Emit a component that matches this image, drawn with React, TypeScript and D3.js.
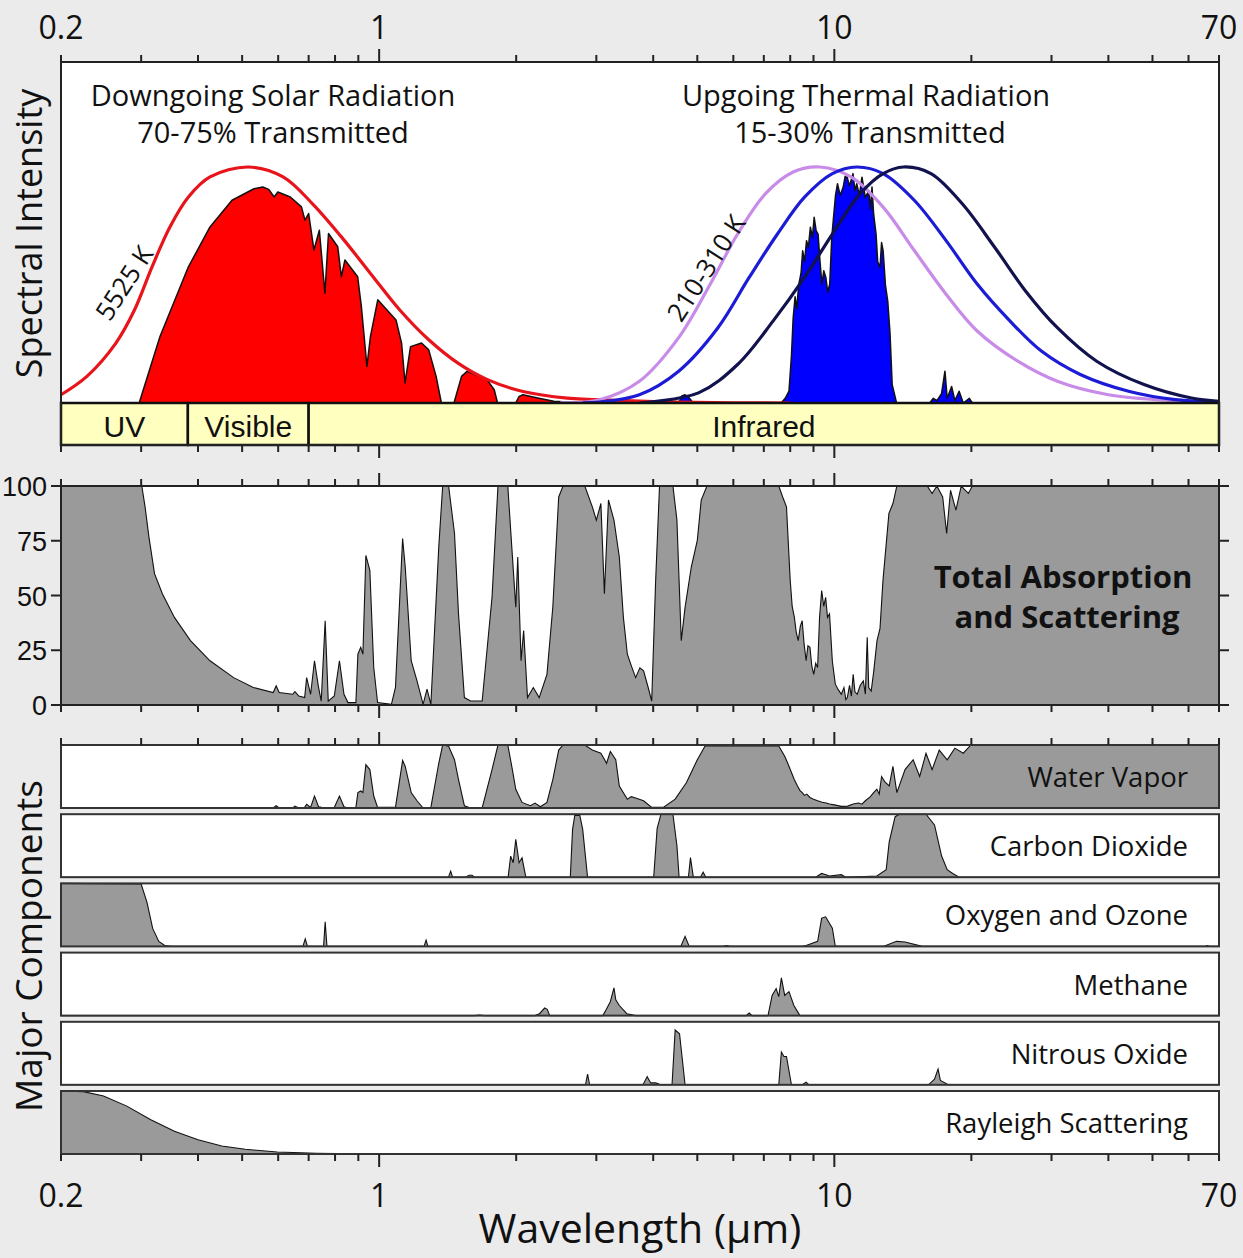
import React from 'react';
import * as d3 from 'd3';

type Pt = [number, number];

// axis ticks (wavelength, µm)
const majorTicks = [1, 10];
const minorTicks = [0.2, 0.3, 0.4, 0.5, 0.6, 0.7, 0.8, 0.9, 2, 3, 4, 5, 6, 7, 8, 9, 20, 30, 40, 50, 60, 70];
const tickLabels: [number, string][] = [[0.2, '0.2'], [1, '1'], [10, '10'], [70, '70']];
const absTicks = [0, 25, 50, 75, 100];

// spectrum bands
const bandNames = ['UV', 'Visible', 'Infrared'];
const bandEdges = [0.2, 0.38, 0.7, 70];

// blackbody curves (normalised intensity)
const bb5525: Pt[] = [
  [0.2, 0.035], [0.228, 0.113], [0.264, 0.254], [0.29, 0.394], [0.317, 0.577], [0.347, 0.746],
  [0.381, 0.873], [0.425, 0.958], [0.516, 1.0], [0.615, 0.958], [0.713, 0.845], [0.826, 0.704],
  [0.957, 0.549], [1.11, 0.394], [1.285, 0.268], [1.49, 0.169], [1.73, 0.099], [2.07, 0.049],
  [2.59, 0.021], [3.35, 0.011], [4.5, 0.004], [6, 0.001], [8, 0],
];
const bb310: Pt[] = [
  [2.5, 0.002], [3.05, 0.014], [3.73, 0.092], [4.55, 0.277], [5.34, 0.504], [6.13, 0.716], [7.06, 0.887],
  [8.12, 0.979], [9.3, 1.0], [10.9, 0.957], [12.8, 0.83], [15.0, 0.645], [17.6, 0.461], [20.6, 0.305],
  [25.3, 0.177], [30.9, 0.092], [40, 0.035], [55.2, 0.01], [70, 0.004],
];
const bb260: Pt[] = [
  [2.8, 0.001], [3.05, 0.004], [3.73, 0.035], [4.55, 0.135], [5.55, 0.319], [6.5, 0.532], [7.5, 0.716],
  [8.6, 0.872], [9.9, 0.972], [11.2, 1.0], [12.8, 0.972], [15, 0.858], [17.6, 0.688], [20.6, 0.504],
  [24.3, 0.348], [28.5, 0.22], [34.7, 0.121], [44.3, 0.05], [56.2, 0.014], [70, 0.004],
];
const bb210: Pt[] = [
  [3.73, 0.0], [5.03, 0.043], [6.13, 0.163], [7.34, 0.348], [8.6, 0.532], [9.9, 0.716], [11.4, 0.887],
  [12.8, 0.972], [14.2, 1.0], [16.3, 0.972], [19.1, 0.844], [22.5, 0.66], [26.3, 0.475], [30.9, 0.319],
  [37.7, 0.177], [47.9, 0.078], [60.9, 0.021], [70, 0.007],
];

// transmitted radiation
const solarTransmitted: Pt[] = [
  [0.297, 0], [0.33, 0.282], [0.381, 0.577], [0.425, 0.746], [0.475, 0.859], [0.531, 0.908], [0.555, 0.915],
  [0.572, 0.905], [0.588, 0.873], [0.599, 0.894], [0.638, 0.873], [0.675, 0.831], [0.687, 0.775],
  [0.7, 0.803], [0.719, 0.648], [0.739, 0.732], [0.76, 0.465], [0.774, 0.718], [0.811, 0.662],
  [0.826, 0.535], [0.841, 0.606], [0.897, 0.535], [0.914, 0.408], [0.94, 0.155], [0.957, 0.282],
  [0.993, 0.437], [1.089, 0.352], [1.12, 0.254], [1.14, 0.085], [1.172, 0.239], [1.239, 0.254],
  [1.285, 0.225], [1.334, 0.113], [1.37, 0], [1.46, 0], [1.517, 0.113], [1.56, 0.134], [1.725, 0.099],
  [1.79, 0.056], [1.82, 0], [1.995, 0], [2.03, 0.028], [2.07, 0.035], [2.23, 0.021], [2.42, 0.007],
  [2.6, 0.004], [2.75, 0],
];
const thermalTransmitted: Pt[] = [
  [4.55, 0], [4.62, 0.03], [4.7, 0.035], [4.78, 0.025], [4.9, 0], [7.64, 0], [7.8, 0.02], [7.95, 0.05],
  [8.05, 0.2], [8.12, 0.36], [8.2, 0.45], [8.27, 0.4], [8.35, 0.5], [8.45, 0.55], [8.52, 0.645],
  [8.6, 0.6], [8.69, 0.688], [8.77, 0.66], [8.86, 0.745], [8.95, 0.7], [9.03, 0.787], [9.12, 0.73],
  [9.21, 0.716], [9.3, 0.6], [9.39, 0.504], [9.48, 0.56], [9.58, 0.532], [9.67, 0.47], [9.77, 0.504],
  [9.87, 0.7], [9.96, 0.787], [10.06, 0.88], [10.16, 0.929], [10.3, 0.88], [10.46, 0.915], [10.56, 0.96],
  [10.67, 0.957], [10.8, 0.92], [10.99, 0.972], [11.1, 0.9], [11.2, 0.929], [11.35, 0.88], [11.5, 0.957],
  [11.7, 0.87], [11.9, 0.9], [12.0, 0.82], [12.1, 0.915], [12.2, 0.8], [12.35, 0.716], [12.45, 0.6],
  [12.6, 0.574], [12.7, 0.68], [12.8, 0.645], [12.95, 0.5], [13.1, 0.433], [13.25, 0.3], [13.4, 0.078],
  [13.7, 0], [16.2, 0], [16.5, 0.02], [16.8, 0.01], [17.2, 0.04], [17.5, 0.135], [17.7, 0.02],
  [18.1, 0.07], [18.4, 0.01], [18.8, 0.05], [19.2, 0], [19.8, 0.02], [20.1, 0],
];

// total absorption and scattering (%)
const totalAbsorption: Pt[] = [
  [0.2, 100], [0.301, 100], [0.306, 90.5], [0.312, 76.8], [0.321, 60], [0.334, 50.8], [0.355, 40],
  [0.385, 29.4], [0.425, 20.2], [0.479, 12.5], [0.529, 8], [0.585, 5.7], [0.594, 8.7], [0.603, 5.7],
  [0.646, 4.9], [0.653, 6.1], [0.666, 4.1], [0.686, 3.4], [0.693, 12.5], [0.707, 4.9], [0.721, 20.2],
  [0.736, 8], [0.746, 1.8], [0.761, 38.5], [0.773, 1.8], [0.797, 4.1], [0.818, 20.2], [0.837, 4.9],
  [0.854, 1.1], [0.889, 1.1], [0.898, 23.2], [0.911, 26.3], [0.921, 23.2], [0.935, 68.3], [0.954, 61.5],
  [0.973, 17.1], [0.992, 1.1], [1.064, 0.3], [1.086, 8], [1.126, 76], [1.141, 63], [1.176, 20.2],
  [1.211, 11], [1.249, 0.3], [1.274, 7.2], [1.299, 0.3], [1.352, 72.2], [1.379, 100], [1.421, 100],
  [1.464, 78.3], [1.494, 41.6], [1.539, 3.4], [1.587, 1.8], [1.684, 1.8], [1.77, 49.2], [1.824, 100],
  [1.917, 100], [1.956, 72.2], [1.996, 44.6], [2.016, 67.6], [2.05, 20.2], [2.077, 34], [2.118, 3.4],
  [2.181, 8], [2.247, 3.4], [2.337, 14], [2.407, 44.6], [2.48, 95], [2.535, 100], [2.83, 100],
  [2.94, 90.5], [3.0, 84.4], [3.07, 92], [3.125, 50.8], [3.19, 93.6], [3.28, 84.4], [3.37, 67.6],
  [3.44, 40], [3.51, 23.2], [3.58, 18], [3.66, 12.5], [3.74, 17], [3.81, 15.6], [3.9, 8], [3.97, 1.8],
  [4.05, 56.9], [4.13, 100], [4.42, 100], [4.51, 84.4], [4.61, 29.4], [4.7, 44.6], [4.85, 63],
  [5.0, 75.2], [5.1, 93.6], [5.25, 100], [7.55, 100], [7.7, 95], [7.85, 90.5], [8.0, 56.9], [8.08, 45],
  [8.17, 40], [8.25, 33], [8.33, 29.4], [8.42, 36], [8.5, 38.5], [8.58, 28], [8.67, 20.2], [8.75, 27],
  [8.84, 26.3], [8.92, 18], [9.01, 14], [9.1, 19], [9.19, 17.1], [9.28, 40], [9.38, 52.3], [9.48, 45],
  [9.57, 49.2], [9.66, 40], [9.76, 41.6], [9.9, 20], [10.05, 9.5], [10.2, 7], [10.36, 4.9], [10.5, 8],
  [10.6, 2.5], [10.68, 3.4], [10.8, 9], [10.9, 4], [11.0, 14], [11.1, 6], [11.23, 4.9], [11.4, 9],
  [11.58, 11], [11.7, 5], [11.81, 30.9], [11.9, 8], [12.05, 6.4], [12.2, 15], [12.41, 29.4], [12.6, 35],
  [12.79, 56.9], [13.18, 87.5], [13.45, 92], [13.72, 100], [16.0, 100], [16.4, 96.6], [16.8, 100],
  [17.3, 95], [17.65, 78.3], [18.0, 98], [18.5, 89], [19.0, 100], [19.7, 96.6], [20.1, 100], [70, 100],
];

// major components (% of panel)
const waterVapor: Pt[] = [
  [0.2, 0], [0.585, 0], [0.594, 3.6], [0.603, 0], [0.646, 0], [0.653, 3], [0.666, 0], [0.686, 1],
  [0.693, 6], [0.707, 1], [0.721, 19], [0.736, 2], [0.76, 0], [0.797, 1], [0.818, 19], [0.837, 2],
  [0.854, 0], [0.889, 1], [0.898, 24.5], [0.911, 27], [0.921, 24.5], [0.935, 68.8], [0.954, 61],
  [0.973, 19], [0.992, 1], [1.086, 1], [1.126, 75.5], [1.141, 66], [1.176, 24.5], [1.211, 11.5],
  [1.249, 0], [1.299, 1], [1.352, 71], [1.379, 100], [1.421, 98], [1.464, 76.6], [1.494, 45],
  [1.539, 3.6], [1.587, 0], [1.684, 0], [1.77, 61], [1.824, 100], [1.917, 100], [1.956, 66],
  [1.996, 29.7], [2.06, 8.9], [2.15, 3.6], [2.2, 7.8], [2.26, 2], [2.337, 8.9], [2.407, 45], [2.48, 92],
  [2.535, 100], [2.83, 100], [2.94, 92], [3.07, 87], [3.16, 71], [3.22, 89.6], [3.31, 76.6], [3.37, 35],
  [3.51, 14], [3.58, 18], [3.66, 16], [3.81, 11.5], [3.97, 1], [4.21, 1], [4.47, 14], [4.73, 40],
  [5.0, 76.6], [5.2, 98.4], [7.55, 98.4], [7.78, 82], [7.9, 71], [8.17, 45], [8.3, 35], [8.4, 28],
  [8.5, 24.5], [8.6, 20], [8.7, 22], [8.84, 16.7], [9.0, 14], [9.19, 11.5], [9.4, 9], [9.6, 8],
  [9.76, 6.3], [10.0, 5], [10.36, 2.6], [10.7, 3], [11.0, 6.3], [11.3, 8], [11.5, 6], [11.7, 11.5],
  [12.0, 18], [12.2, 24.5], [12.4, 30], [12.55, 22], [12.7, 50], [12.9, 42], [13.2, 35], [13.45, 66],
  [13.72, 24.5], [14.3, 61], [14.9, 76.6], [15.4, 50], [15.9, 87], [16.4, 61], [17.0, 92], [17.7, 76.6],
  [18.4, 95], [19.2, 87], [19.95, 100], [70, 100],
];
const carbonDioxide: Pt[] = [
  [0.2, 0], [1.42, 0], [1.436, 9.6], [1.45, 0], [1.55, 0], [1.575, 3], [1.6, 3], [1.62, 0], [1.92, 0],
  [1.945, 33.5], [1.97, 23], [1.996, 60], [2.03, 23], [2.06, 30.8], [2.1, 0], [2.63, 0], [2.66, 76],
  [2.69, 98], [2.76, 98], [2.8, 76], [2.87, 0], [4.01, 0], [4.08, 77], [4.16, 100], [4.42, 100],
  [4.51, 50], [4.56, 0], [4.78, 0], [4.83, 31], [4.9, 0], [5.08, 0], [5.15, 8], [5.22, 0], [9.1, 0],
  [9.38, 6], [9.76, 2], [10.36, 4], [10.6, 0], [12.4, 2], [13.0, 12], [13.2, 56], [13.6, 96], [13.9, 100],
  [15.9, 100], [16.6, 83], [17.2, 34], [17.7, 12], [18.2, 6], [18.8, 0], [70, 0],
];
const oxygenOzone: Pt[] = [
  [0.2, 100], [0.3, 99], [0.309, 70], [0.318, 28.5], [0.328, 7.8], [0.338, 1.5], [0.35, 0], [0.68, 0],
  [0.688, 12], [0.696, 0], [0.755, 0], [0.761, 39], [0.768, 0], [1.255, 0], [1.268, 10], [1.28, 0],
  [4.6, 0], [4.7, 16], [4.8, 0], [5.7, 0], [5.8, 1.5], [5.9, 0], [8.5, 0], [8.67, 1.5], [9.19, 8],
  [9.38, 45], [9.57, 47], [9.9, 29], [10.05, 0], [12.8, 0], [13.7, 8], [14.3, 7], [15.6, 0], [65, 0],
  [66, 1.5], [67, 0], [70, 0],
];
const methane: Pt[] = [
  [0.2, 0], [1.62, 0], [1.66, 1], [1.7, 0], [2.2, 0], [2.25, 3], [2.31, 12], [2.34, 10], [2.37, 0],
  [3.1, 0], [3.15, 9], [3.22, 22], [3.28, 44], [3.31, 25], [3.37, 16], [3.5, 3], [3.66, 0], [6.4, 0],
  [6.5, 4], [6.6, 0], [7.15, 0], [7.3, 32], [7.45, 43], [7.55, 30], [7.65, 60], [7.78, 32], [7.95, 38],
  [8.15, 16], [8.4, 0], [70, 0],
];
const nitrousOxide: Pt[] = [
  [0.2, 0], [2.84, 0], [2.87, 17], [2.9, 0], [3.8, 0], [3.88, 13], [3.95, 3], [4.05, 3], [4.15, 0],
  [4.4, 0], [4.47, 87], [4.57, 81], [4.7, 0], [7.55, 0], [7.65, 52], [7.75, 45], [7.85, 45], [8.05, 0],
  [8.5, 0], [8.67, 4], [8.8, 0], [16.1, 0], [16.6, 9], [16.9, 25], [17.1, 7], [17.8, 0], [70, 0],
];
const rayleigh: Pt[] = [
  [0.2, 100], [0.224, 99], [0.248, 92], [0.279, 76], [0.315, 54.5], [0.355, 36], [0.4, 22.5],
  [0.451, 12.8], [0.508, 7.5], [0.597, 3.2], [0.728, 1.1], [0.98, 0], [70, 0],
];

const componentNames = ['Water Vapor', 'Carbon Dioxide', 'Oxygen and Ozone', 'Methane', 'Nitrous Oxide', 'Rayleigh Scattering'];
const componentSeries = [waterVapor, carbonDioxide, oxygenOzone, methane, nitrousOxide, rayleigh];

const MYRIAD = "'Open Sans', 'Noto Sans', sans-serif";
const ARIAL = "'Liberation Sans', Arial, sans-serif";
const GRAY = '#9a9a9a';
const FRAME = '#222';

export default function App() {
  const W = 1243, H = 1258;
  const X0 = 61, X1 = 1219;
  const topY = 62, baseY = 403, barBottom = 445;
  const absTop = 486, absBottom = 705;
  const compTop = 745, compStep = 69.2, compH = 63;
  const compBottom = compTop + 5 * compStep + compH;

  const x = d3.scaleLog().domain([0.2, 70]).range([X0, X1]);
  const yTop = d3.scaleLinear().domain([0, 1]).range([baseY, 167]);
  const yAbs = d3.scaleLinear().domain([0, 100]).range([absBottom, absTop]);

  const smooth = d3.line<Pt>().x(d => x(d[0])).y(d => yTop(d[1])).curve(d3.curveCatmullRom.alpha(0.5));
  const topArea = d3.area<Pt>().x(d => x(d[0])).y0(baseY).y1(d => yTop(d[1]));

  const allTicks = [...minorTicks.map(v => ({ v, len: 7 })), ...majorTicks.map(v => ({ v, len: 13 }))];
  const ticks = (y: number, dir: number, key: string) =>
    allTicks.map(t => (
      <line key={key + t.v} x1={x(t.v)} x2={x(t.v)} y1={y} y2={y + dir * t.len} stroke={FRAME} strokeWidth={2} />
    ));

  return (
    <svg width={W} height={H} style={{ position: 'absolute', left: 0, top: 0 }}>
      <rect x={0} y={0} width={W} height={H} fill="#ebebeb" />

      {/* top tick labels */}
      {tickLabels.map(([v, s]) => (
        <text key={'tl' + s} x={x(v)} y={39} textAnchor="middle" fontFamily={MYRIAD} fontSize={32} fill="#111">{s}</text>
      ))}

      {/* spectral intensity panel */}
      <rect x={X0} y={topY} width={X1 - X0} height={baseY - topY} fill="#fff" />
      <path d={topArea(solarTransmitted) || ''} fill="#ff0000" stroke="#111" strokeWidth={1.5} strokeLinejoin="round" />
      <path d={topArea(thermalTransmitted) || ''} fill="#0000ff" stroke="#111" strokeWidth={1.5} strokeLinejoin="round" />
      <path d={smooth(bb5525) || ''} fill="none" stroke="#e8141c" strokeWidth={3.2} />
      <path d={smooth(bb310) || ''} fill="none" stroke="#c88ce8" strokeWidth={3.2} />
      <path d={smooth(bb260) || ''} fill="none" stroke="#1c1cd6" strokeWidth={3.2} />
      <path d={smooth(bb210) || ''} fill="none" stroke="#12124e" strokeWidth={3.2} />

      <text x={273} y={106} textAnchor="middle" fontFamily={MYRIAD} fontSize={29} fill="#111">Downgoing Solar Radiation</text>
      <text x={273} y={143} textAnchor="middle" fontFamily={MYRIAD} fontSize={29} fill="#111">70-75% Transmitted</text>
      <text x={866} y={106} textAnchor="middle" fontFamily={MYRIAD} fontSize={29} fill="#111">Upgoing Thermal Radiation</text>
      <text x={870} y={143} textAnchor="middle" fontFamily={MYRIAD} fontSize={29} fill="#111">15-30% Transmitted</text>
      <text transform="translate(132,288) rotate(-57)" textAnchor="middle" fontFamily={MYRIAD} fontSize={26} fill="#111">5525 K</text>
      <text transform="translate(714,273) rotate(-57)" textAnchor="middle" fontFamily={MYRIAD} fontSize={26} fill="#111">210-310 K</text>

      {bandNames.map((name, i) => (
        <g key={name}>
          <rect x={x(bandEdges[i])} y={baseY} width={x(bandEdges[i + 1]) - x(bandEdges[i])} height={barBottom - baseY}
            fill="#ffffbf" stroke="#111" strokeWidth={2.5} />
          <text x={(x(bandEdges[i]) + x(bandEdges[i + 1])) / 2} y={437} textAnchor="middle" fontFamily={ARIAL} fontSize={30} fill="#111">{name}</text>
        </g>
      ))}
      <rect x={X0} y={topY} width={X1 - X0} height={barBottom - topY} fill="none" stroke={FRAME} strokeWidth={2} />
      {ticks(topY, -1, 'tt')}
      {ticks(barBottom, 1, 'tb')}
      <text transform={`translate(42,${(topY + barBottom) / 2 - 20}) rotate(-90)`} textAnchor="middle" fontFamily={MYRIAD} fontSize={36} fill="#111">Spectral Intensity</text>

      {/* total absorption panel */}
      <rect x={X0} y={absTop} width={X1 - X0} height={absBottom - absTop} fill="#fff" />
      <path d={d3.area<Pt>().x(d => x(d[0])).y0(absBottom).y1(d => yAbs(d[1]))(totalAbsorption) || ''} fill={GRAY} />
      <path d={d3.line<Pt>().x(d => x(d[0])).y(d => yAbs(d[1]))(totalAbsorption) || ''} fill="none" stroke="#111" strokeWidth={1.1} />
      <rect x={X0} y={absTop} width={X1 - X0} height={absBottom - absTop} fill="none" stroke={FRAME} strokeWidth={2} />
      {ticks(absTop, -1, 'at')}
      {ticks(absBottom, 1, 'ab')}
      {absTicks.map(v => (
        <g key={'ay' + v}>
          <line x1={X0 - 10} x2={X0} y1={yAbs(v)} y2={yAbs(v)} stroke={FRAME} strokeWidth={2} />
          <line x1={X1} x2={X1 + 10} y1={yAbs(v)} y2={yAbs(v)} stroke={FRAME} strokeWidth={2} />
          <text x={47} y={yAbs(v) + 10} textAnchor="end" fontFamily={ARIAL} fontSize={27} fill="#111">{v}</text>
        </g>
      ))}
      <text x={1063} y={588} textAnchor="middle" fontFamily={MYRIAD} fontWeight="bold" fontSize={31} fill="#111">Total Absorption</text>
      <text x={1067} y={628} textAnchor="middle" fontFamily={MYRIAD} fontWeight="bold" fontSize={31} fill="#111">and Scattering</text>

      {/* major components */}
      {componentSeries.map((series, i) => {
        const top = compTop + i * compStep;
        const yc = d3.scaleLinear().domain([0, 100]).range([top + compH, top]);
        const area = d3.area<Pt>().x(d => x(d[0])).y0(top + compH).y1(d => yc(d[1]));
        const line = d3.line<Pt>().x(d => x(d[0])).y(d => yc(d[1]));
        return (
          <g key={componentNames[i]}>
            <rect x={X0} y={top} width={X1 - X0} height={compH} fill="#fff" />
            <path d={area(series) || ''} fill={GRAY} />
            <path d={line(series) || ''} fill="none" stroke="#111" strokeWidth={1.1} />
            <text x={1188} y={top + 42} textAnchor="end" fontFamily={MYRIAD} fontSize={27.5} fill="#111">{componentNames[i]}</text>
            <rect x={X0} y={top} width={X1 - X0} height={compH} fill="none" stroke="#333" strokeWidth={2} />
          </g>
        );
      })}
      {ticks(compTop, -1, 'ct')}
      {ticks(compBottom, 1, 'cb')}
      <text transform={`translate(42,946) rotate(-90)`} textAnchor="middle" fontFamily={MYRIAD} fontSize={37} fill="#111">Major Components</text>

      {tickLabels.map(([v, s]) => (
        <text key={'bl' + s} x={x(v)} y={1207} textAnchor="middle" fontFamily={MYRIAD} fontSize={32} fill="#111">{s}</text>
      ))}
      <text x={(X0 + X1) / 2} y={1243} textAnchor="middle" fontFamily={MYRIAD} fontSize={41} fill="#111">Wavelength (µm)</text>
    </svg>
  );
}
